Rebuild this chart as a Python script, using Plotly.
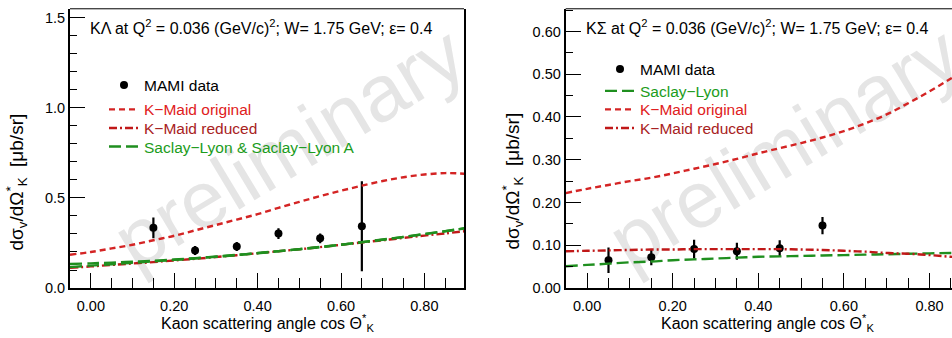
import plotly.graph_objects as go

W, H = 952, 338
FONT = "Liberation Sans, Arial, sans-serif"

# ---------------- data: K Lambda panel ----------------
lam_x = [0.15, 0.25, 0.35, 0.45, 0.55, 0.65]
lam_y = [0.334, 0.208, 0.231, 0.302, 0.276, 0.343]
lam_err = [0.058, 0.025, 0.025, 0.030, 0.027, 0.250]

curve_x = [-0.05, 0.00, 0.05, 0.10, 0.15, 0.20, 0.25, 0.30, 0.35, 0.40,
           0.45, 0.50, 0.55, 0.60, 0.65, 0.70, 0.75, 0.80, 0.85, 0.90]
lam_kmaid_orig = [0.185, 0.200, 0.220, 0.240, 0.265, 0.290, 0.320, 0.350, 0.380, 0.410,
                  0.445, 0.478, 0.510, 0.540, 0.568, 0.594, 0.615, 0.630, 0.638, 0.634]
lam_kmaid_red = [0.112, 0.120, 0.128, 0.136, 0.144, 0.153, 0.162, 0.172, 0.182, 0.193,
                 0.204, 0.215, 0.227, 0.240, 0.253, 0.265, 0.278, 0.291, 0.303, 0.316]
lam_sl = [0.133, 0.137, 0.141, 0.146, 0.151, 0.158, 0.166, 0.175, 0.184, 0.194,
          0.205, 0.216, 0.228, 0.241, 0.255, 0.269, 0.284, 0.300, 0.316, 0.333]
lam_sla = [0.116, 0.124, 0.132, 0.140, 0.148, 0.156, 0.164, 0.173, 0.183, 0.193,
           0.204, 0.215, 0.227, 0.240, 0.254, 0.268, 0.283, 0.299, 0.315, 0.332]

# ---------------- data: K Sigma panel ----------------
sig_x = [0.05, 0.15, 0.25, 0.35, 0.45, 0.55]
sig_y = [0.065, 0.072, 0.091, 0.086, 0.093, 0.146]
sig_err = [0.030, 0.019, 0.022, 0.020, 0.019, 0.020]

sig_kmaid_orig = [0.222, 0.232, 0.241, 0.250, 0.258, 0.268, 0.279, 0.290, 0.302, 0.315,
                  0.327, 0.339, 0.352, 0.367, 0.385, 0.406, 0.432, 0.460, 0.490, 0.522]
sig_kmaid_red = [0.086, 0.087, 0.088, 0.089, 0.090, 0.090, 0.091, 0.091, 0.091, 0.091,
                 0.091, 0.090, 0.089, 0.087, 0.085, 0.082, 0.080, 0.077, 0.073, 0.069]
sig_sl = [0.051, 0.054, 0.057, 0.060, 0.062, 0.065, 0.067, 0.069, 0.071, 0.073,
          0.074, 0.075, 0.076, 0.077, 0.078, 0.079, 0.080, 0.081, 0.082, 0.082]

# ---------------- styles ----------------
RED = "#d42424"
DARKRED = "#c01818"
GREEN = "#1f8f1f"
TXT_RED = "#e02020"
TXT_DARKRED = "#a82222"
TXT_GREEN = "#1c9c1c"
DASH_ORIG = "6px,4px"
DASH_RED = "8px,3px,2px,3px"
DASH_SL = "12px,5px"


def px_x(p):
    return p / W


def px_y(p):
    return 1 - p / H


fig = go.Figure()


def add_data(x, y, err, xa, ya, leg):
    fig.add_trace(go.Scatter(
        x=x, y=y, mode="markers", xaxis=xa, yaxis=ya,
        marker=dict(color="black", size=8),
        error_y=dict(type="data", array=err, color="black", thickness=2.2, width=0),
        name="MAMI data", legend=leg, showlegend=True,
    ))


def add_curve(y, xa, ya, name, color, dash, leg, show=True, width=2.4):
    fig.add_trace(go.Scatter(
        x=curve_x, y=y, mode="lines", xaxis=xa, yaxis=ya,
        line=dict(color=color, dash=dash, width=width, shape="spline"),
        name=name, legend=leg, showlegend=show,
    ))


def col(txt, c):
    return '<span style="color:%s">%s</span>' % (c, txt)


# left panel
add_data(lam_x, lam_y, lam_err, "x", "y", "legend")
add_curve(lam_kmaid_orig, "x", "y", col("K−Maid original", TXT_RED), RED, DASH_ORIG, "legend2")
add_curve(lam_kmaid_red, "x", "y", col("K−Maid reduced", TXT_DARKRED), DARKRED, DASH_RED, "legend3")
add_curve(lam_sl, "x", "y", col("Saclay−Lyon &amp; Saclay−Lyon A", TXT_GREEN), GREEN, DASH_SL, "legend4")
add_curve(lam_sla, "x", "y", "Saclay−Lyon A", GREEN, DASH_SL, "legend4", show=False)

# right panel
add_data(sig_x, sig_y, sig_err, "x2", "y2", "legend5")
add_curve(sig_sl, "x2", "y2", col("Saclay−Lyon", TXT_GREEN), GREEN, DASH_SL, "legend6")
add_curve(sig_kmaid_orig, "x2", "y2", col("K−Maid original", TXT_RED), RED, DASH_ORIG, "legend7")
add_curve(sig_kmaid_red, "x2", "y2", col("K−Maid reduced", TXT_DARKRED), DARKRED, DASH_RED, "legend8")

ydom = [1 - 295 / H, 1 - 9 / H]

common_x = dict(
    dtick=0.2, tick0=0, tickformat=".2f",
    ticks="inside", ticklen=15, tickwidth=1.3, tickcolor="black",
    minor=dict(dtick=0.05, tick0=0, ticks="inside", ticklen=10, tickwidth=1.3, tickcolor="black"),
    showline=True, linewidth=2, linecolor="black",
    showgrid=False, zeroline=False, ticklabelstandoff=4,
    tickfont=dict(family=FONT, size=14.5, color="black"),
)
common_y = dict(
    ticks="inside", ticklen=15, tickwidth=1.3, tickcolor="black",
    showline=True, linewidth=2, linecolor="black",
    showgrid=False, zeroline=False,
    tickfont=dict(family=FONT, size=14.5, color="black"),
)

# one legend box per entry so each row sits where the reference has it
leg_rows = [(104, 87.5), (104, 112.5), (104, 131.5), (104, 150.5),
            (600, 71), (600, 93.5), (600, 112.5), (600, 131.5)]
legends = {}
for i, (lx, ly) in enumerate(leg_rows):
    key = "legend" if i == 0 else "legend%d" % (i + 1)
    legends[key] = dict(x=px_x(lx), y=px_y(ly), xanchor="left", yanchor="middle",
                        bgcolor="rgba(0,0,0,0)", itemwidth=30,
                        font=dict(family=FONT, size=15.5, color="black"))

fig.update_layout(
    xaxis=dict(domain=[70 / W, 464 / W], range=[-0.05, 0.895], anchor="y", **common_x),
    yaxis=dict(domain=ydom, range=[0, 1.55], anchor="x", dtick=0.5, tick0=0, tickformat=".1f",
               mirror=True,
               minor=dict(dtick=0.1, tick0=0, ticks="inside", ticklen=7, tickwidth=1.3, tickcolor="black"),
               **common_y),
    xaxis2=dict(domain=[565.7 / W, 1.0], range=[-0.05, 0.8526], anchor="y2", **common_x),
    yaxis2=dict(domain=ydom, range=[0, 0.653], anchor="x2", dtick=0.1, tick0=0, tickformat=".2f",
                minor=dict(dtick=0.05, tick0=0, ticks="inside", ticklen=7, tickwidth=1.3, tickcolor="black"),
                **common_y),
    width=W, height=H,
    margin=dict(l=0, r=0, t=0, b=0),
    paper_bgcolor="white", plot_bgcolor="white",
    font=dict(family=FONT, size=15, color="black"),
    showlegend=True,
    **legends,
)

# frame top lines
for xr, yr in (("x domain", "y domain"), ("x2 domain", "y2 domain")):
    fig.add_shape(type="line", xref=xr, yref=yr, x0=0, x1=1, y0=1, y1=1,
                  line=dict(color="black", width=1))

# "preliminary" watermarks, drawn below the data
for cx, cy in ((285, 144), (780, 144)):
    fig.add_shape(type="rect", xref="paper", yref="paper",
                  x0=px_x(cx - 20), x1=px_x(cx + 20), y0=px_y(cy + 20), y1=px_y(cy - 20),
                  line=dict(width=0), fillcolor="rgba(0,0,0,0)", layer="below",
                  label=dict(text="preliminary", textangle=-31, textposition="middle center",
                             font=dict(family=FONT, size=80, color="#e5e5e5")))

ann = []
hdr = " at Q<sup>2</sup> = 0.036 (GeV/c)<sup>2</sup>; W= 1.75 GeV; ε= 0.4"
ann.append(dict(text="KΛ" + hdr, x=px_x(88), y=px_y(28), xanchor="left", yanchor="middle", size=16))
ann.append(dict(text="KΣ" + hdr, x=px_x(584), y=px_y(28), xanchor="left", yanchor="middle", size=16))
xt = "Kaon scattering angle cos Θ<sup>*</sup><sub>K</sub>"
ann.append(dict(text=xt, x=px_x(267), y=px_y(331), xanchor="center", yanchor="middle", size=16))
ann.append(dict(text=xt, x=px_x(767), y=px_y(331), xanchor="center", yanchor="middle", size=16))
yt = "dσ<sub>v</sub>/dΩ<sup>*</sup><sub>K</sub>  [μb/sr]"
ann.append(dict(text=yt, x=px_x(17), y=px_y(187), textangle=-90, xanchor="center", yanchor="middle", size=19))
ann.append(dict(text=yt, x=px_x(513), y=px_y(186), textangle=-90, xanchor="center", yanchor="middle", size=19))

for a in ann:
    s = a.pop("size")
    a.update(xref="paper", yref="paper", showarrow=False,
             font=dict(family=FONT, size=s, color="black"))
fig.update_layout(annotations=ann)

fig.write_html("out.html")
